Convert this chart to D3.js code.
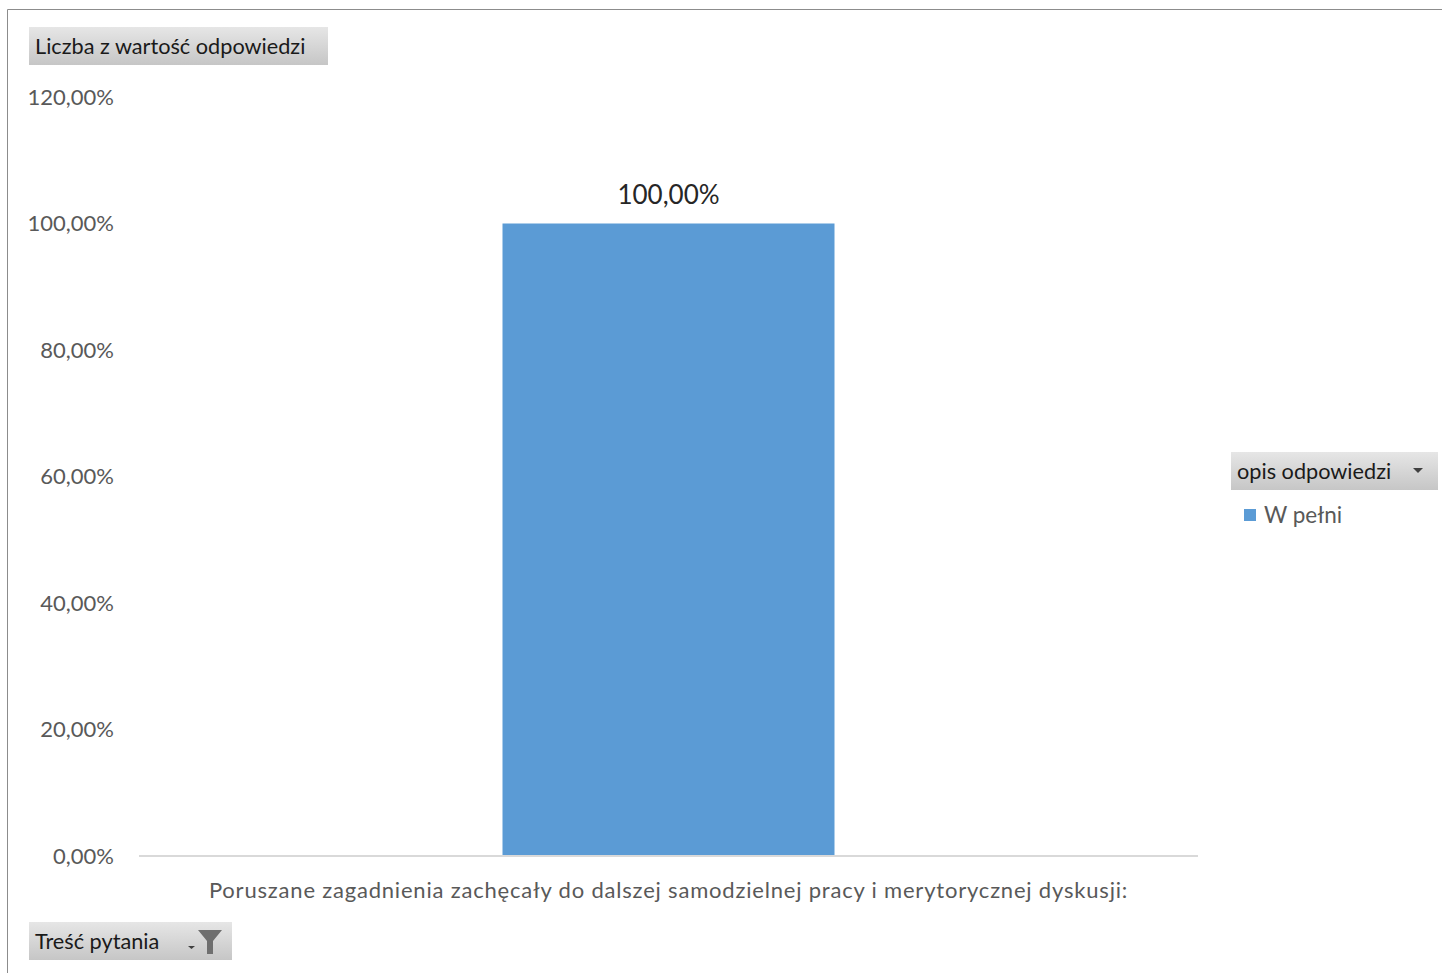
<!DOCTYPE html>
<html><head><meta charset="utf-8">
<script src="https://cdn.jsdelivr.net/npm/d3@7"></script>
<style>body{margin:0;background:#fff;} svg{display:block;font-family:Lato, "Noto Sans", sans-serif;}</style>
</head><body>
<svg id="c" width="1442" height="973"></svg>
<script>
const categories = ["Poruszane zagadnienia zachęcały do dalszej samodzielnej pracy i merytorycznej dyskusji:"];
const seriesName = "W pełni";
const values = [1.0];
const yTicks = [0, 0.2, 0.4, 0.6, 0.8, 1.0, 1.2];
const fieldButtons = { value: "Liczba z wartość odpowiedzi", axis: "Treść pytania", legend: "opis odpowiedzi" };

const svg = d3.select("#c");
const defs = svg.append("defs");
const g = defs.append("linearGradient").attr("id","btn").attr("x1",0).attr("y1",0).attr("x2",0).attr("y2",1);
g.append("stop").attr("offset","0%").attr("stop-color","#e6e6e6");
g.append("stop").attr("offset","100%").attr("stop-color","#c6c6c6");

// frame
svg.append("path").attr("d","M7.5,973 L7.5,9.5 L1442,9.5").attr("fill","none").attr("stroke","#8c8c8c").attr("stroke-width",1);

const x = d3.scaleBand().domain(categories).range([139,1198]).paddingInner(0.6865).paddingOuter(0.3432);
const y = d3.scaleLinear().domain([0,1.2]).range([856,97]);
const fmt = v => d3.format(".2f")(v*100).replace(".", ",") + "%";

// y axis labels
const yAxis = d3.axisLeft(y).tickValues(yTicks).tickFormat(fmt).tickSize(0).tickPadding(0);
const ya = svg.append("g").attr("transform","translate(114,0)").call(yAxis);
ya.select(".domain").remove();
ya.selectAll("text").attr("fill","#595959").style("font-size","22px").style("font-family","Lato, sans-serif");

// bars
svg.selectAll("rect.bar").data(values).join("rect").attr("class","bar")
  .attr("x",(d,i)=>x(categories[i])).attr("width",x.bandwidth())
  .attr("y",d=>y(d)).attr("height",d=>y(0)-y(d)).attr("fill","#5b9bd5");

// baseline
const xAxis = d3.axisBottom(x).tickSize(0).tickPadding(26);
const xa = svg.append("g").attr("transform",`translate(0,${y(0)})`).call(xAxis);
xa.select(".domain").attr("stroke","#d9d9d9").attr("stroke-width",2).attr("d","M139,0H1198");
xa.selectAll("text").attr("fill","#595959").style("font-size","22px").style("letter-spacing","0.8px").style("font-family","Lato, sans-serif").attr("dy","0.71em");

// data labels
svg.selectAll("text.dl").data(values).join("text").attr("class","dl")
  .attr("x",(d,i)=>x(categories[i])+x.bandwidth()/2).attr("y",d=>y(d)-20)
  .attr("text-anchor","middle").attr("fill","#262626").style("font-size","26px").text(fmt);

function button(xp, yp, w, h, label, icon){
  const b = svg.append("g").attr("transform",`translate(${xp},${yp})`);
  b.append("rect").attr("width",w).attr("height",h).attr("fill","url(#btn)");
  b.append("text").attr("x",6).attr("y",h/2).attr("dy","0.35em").attr("fill","#1a1a1a").style("font-size","21.7px").text(label);
  if(icon==="dropdown"){
    b.append("path").attr("d",`M${w-25},${h/2-3} h10 l-5,5 z`).attr("fill","#404040");
  } else if(icon==="filter"){
    b.append("path").attr("d",`M${w-44},${h/2+5} h7 l-3.5,3 z`).attr("fill","#404040");
    b.append("path").attr("d",`M${w-34},${h/2-11} h24 l-9,11 v13 h-6 v-13 z`).attr("fill","#6f6f6f");
  }
  return b;
}
button(29,27,299,38,fieldButtons.value,null);
button(29,922,203,38,fieldButtons.axis,"filter");
button(1231,452,207,38,fieldButtons.legend,"dropdown");

// legend
const lg = svg.append("g").attr("transform","translate(1244,509)");
lg.append("rect").attr("width",12).attr("height",12).attr("fill","#5b9bd5");
lg.append("text").attr("x",20).attr("y",6).attr("dy","0.35em").attr("fill","#595959").style("font-size","22.5px").text(seriesName);
</script>
</body></html>
